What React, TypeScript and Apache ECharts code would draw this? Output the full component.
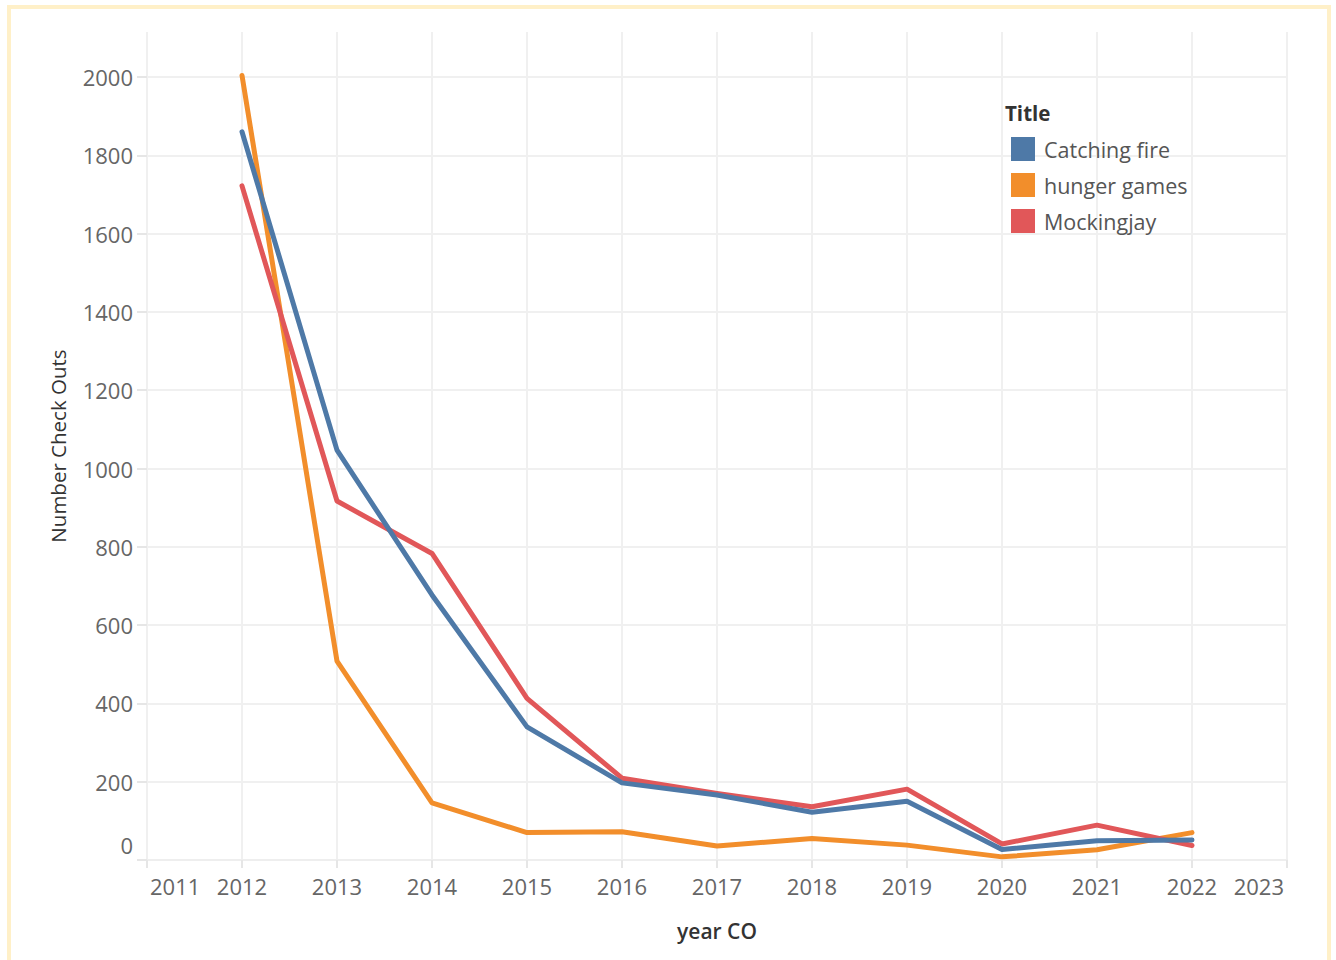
import React, { useEffect, useRef } from "react";
import * as echarts from "echarts";

const years = [2012, 2013, 2014, 2015, 2016, 2017, 2018, 2019, 2020, 2021, 2022];
const catchingFire = [1860, 1047, 677, 340, 197, 166, 122, 150, 27, 49, 51];
const hungerGames = [2004, 508, 146, 70, 72, 36, 55, 38, 8, 26, 70];
const mockingjay = [1722, 917, 783, 413, 209, 170, 136, 181, 41, 89, 37];

const seriesNames = ["Catching fire", "hunger games", "Mockingjay"];
const seriesColors = ["#4E79A7", "#F28E2B", "#E15759"];
const seriesValues = [catchingFire, hungerGames, mockingjay];

const FONT = "'Open Sans', 'Noto Sans', sans-serif";

export default function App() {
  const ref = useRef<HTMLDivElement>(null);
  useEffect(() => {
    if (!ref.current) return;
    const chart = echarts.init(ref.current, null, { renderer: "svg" });
    chart.setOption({
      animation: false,
      backgroundColor: "#ffffff",
      textStyle: { fontFamily: FONT },
      grid: { left: 147, right: 49, top: 32, bottom: 100, containLabel: false },
      legend: {
        orient: "vertical",
        left: 1006,
        top: 132,
        icon: "rect",
        itemWidth: 24,
        itemHeight: 24,
        itemGap: 12,
        data: seriesNames,
        textStyle: { fontSize: 21.5, color: "#555555", fontFamily: FONT, padding: [0, 0, 0, 4] },
      },
      graphic: [
        {
          type: "text",
          left: 1005,
          top: 102,
          style: { text: "Title", fontSize: 20.5, fontWeight: "bold", fill: "#333333", fontFamily: FONT },
        },
      ],
      xAxis: {
        type: "value",
        min: 2011,
        max: 2023,
        interval: 1,
        name: "year CO",
        nameLocation: "middle",
        nameGap: 60,
        nameTextStyle: { fontSize: 21, fontWeight: 600, color: "#333333", fontFamily: FONT },
        axisLine: { show: true, lineStyle: { color: "#eeeeee", width: 2 } },
        axisTick: { show: true, length: 8, lineStyle: { color: "#e6e6e6", width: 2 } },
        axisLabel: {
          fontSize: 22,
          color: "#666666",
          margin: 15,
          fontFamily: FONT,
          formatter: (v: number) => String(v),
          alignMinLabel: "left",
          alignMaxLabel: "right",
          padding: [0, 3, 0, 3],
        },
        splitLine: { show: true, lineStyle: { color: "#f0f0f0", width: 2 } },
      },
      yAxis: {
        type: "value",
        min: 0,
        max: 2115,
        interval: 200,
        name: "Number Check Outs",
        nameLocation: "middle",
        nameGap: 79,
        nameRotate: 90,
        nameTextStyle: { fontSize: 20.5, color: "#333333", fontFamily: FONT },
        axisLine: { show: false },
        axisTick: { show: true, length: 10, lineStyle: { color: "#e6e6e6", width: 2 } },
        axisLabel: {
          fontSize: 22,
          color: "#666666",
          margin: 14,
          fontFamily: FONT,
          formatter: (v: number) => String(v),
          showMaxLabel: false,
          verticalAlignMinLabel: "bottom",
          padding: [0, 0, 4, 0],
        },
        splitLine: { show: true, showMaxLine: false, lineStyle: { color: "#f0f0f0", width: 2 } },
      },
      series: seriesNames.map((name, i) => ({
        name,
        type: "line",
        data: years.map((y, j) => [y, seriesValues[i][j]]),
        showSymbol: false,
        symbol: "none",
        color: seriesColors[i],
        lineStyle: { width: 5, color: seriesColors[i], cap: "round", join: "round" },
        z: i === 0 ? 4 : i === 2 ? 3 : 2,
      })),
    });
    return () => chart.dispose();
  }, []);
  return (
    <div style={{ position: "fixed", left: 0, top: 0, width: 1336, height: 960, background: "#ffffff" }}>
      <div ref={ref} style={{ position: "absolute", left: 0, top: 0, width: 1336, height: 960 }} />
      <div
        style={{
          position: "absolute",
          left: 7,
          top: 5,
          width: 1316,
          height: 1000,
          border: "4px solid #FFF0C8",
          pointerEvents: "none",
        }}
      />
    </div>
  );
}
